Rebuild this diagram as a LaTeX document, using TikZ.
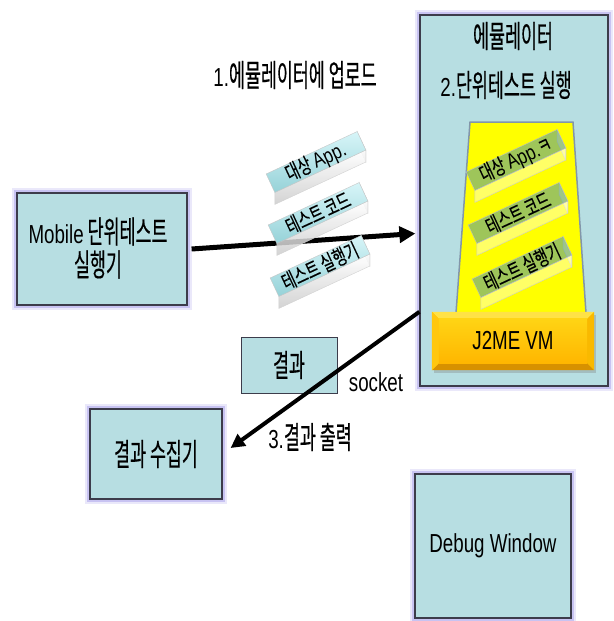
\documentclass[tikz,border=0pt]{standalone}
\usepackage{fontspec}
\setmainfont{Noto Sans CJK KR}[FakeStretch=0.56,FakeBold=0.4]
\newfontfamily\latin{Liberation Sans}[FakeStretch=0.72,Scale=0.84]
\newfontfamily\slabfont{Noto Sans CJK KR}[FakeStretch=0.68,FakeBold=0.3]
\newfontfamily\slablatin{Liberation Sans}[FakeStretch=0.8,Scale=1.0]
\usetikzlibrary{arrows.meta,calc}

\definecolor{boxfill}{RGB}{183,222,226}
\definecolor{glowc}{RGB}{150,140,230}
\definecolor{edge}{RGB}{60,60,75}
\definecolor{trapfill}{RGB}{255,255,0}
\definecolor{trapedge}{RGB}{130,150,170}
\definecolor{gold}{RGB}{255,192,0}
\definecolor{goldlight}{RGB}{255,226,70}
\definecolor{golddark}{RGB}{215,145,0}
\definecolor{goldtop}{RGB}{255,212,20}
\definecolor{goldbot}{RGB}{255,182,0}
\definecolor{barhi}{RGB}{215,245,248}
\definecolor{barlo}{RGB}{150,210,216}
\definecolor{barteal}{RGB}{80,150,165}

\tikzset{
  panel/.style={draw=edge, line width=1.2pt, fill=boxfill,
    preaction={draw=glowc, line width=10pt, opacity=0.2},
    preaction={draw=glowc, line width=6pt, opacity=0.4}},
  plainbox/.style={draw=edge, line width=1pt, fill=boxfill},
  lbl/.style={font=\fontsize{31}{31}\selectfont, align=center, inner sep=0pt},
  slabtxt/.style={font=\fontsize{21}{21}\selectfont\slabfont, inner sep=0pt},
  slabshape/.style={rectangle, minimum width=100pt, minimum height=20pt, inner sep=0pt},
  bigarrow/.style={line width=5pt, -{Triangle[length=16pt,width=16pt]}},
  midarrow/.style={line width=4pt, -{Triangle[length=14pt,width=14pt]}},
  % translucent slabs in front of a white page
  topA/.style={top color=barhi, bottom color=barlo, draw=gray!45, line width=0.4pt},
  sideA/.style={top color=white, bottom color=gray!40, fill opacity=0.85, draw=gray!35, line width=0.4pt},
  % translucent slabs lying on the yellow frame
  topB/.style={fill=barteal, fill opacity=0.55, draw=gray!50, line width=0.4pt},
  sideB/.style={fill=white, fill opacity=0.4, draw=gray!40, line width=0.4pt},
}

% #1 name, #2 centre of the top face, #3 label, #4 style set (A or B)
\newcommand\slab[4]{%
  \path node[slabshape, rotate=25] (#1) at #2 {};
  \path[side#4] (#1.south east) -- (#1.north east) -- ($(#1.north east)+(0,12)$)
        -- ($(#1.south east)+(0,12)$) -- cycle;
  \path[side#4] (#1.south west) -- (#1.south east) -- ($(#1.south east)+(0,12)$)
        -- ($(#1.south west)+(0,12)$) -- cycle;
  \path[top#4] (#1.south west) -- (#1.south east) -- (#1.north east) -- (#1.north west) -- cycle;
  \node[slabtxt, rotate=25] (#1txt) at (#1.center) {#3};
}

\begin{document}
\begin{tikzpicture}[x=1pt,y=-1pt]
\useasboundingbox[fill=white] (0,0) rectangle (613,621);

% emulator frame with its titles
\node[panel, minimum width=188pt, minimum height=371pt] (emu) at (514,200.5) {};
\node[lbl] (emutitle) at (513,36) {에뮬레이터};
\node[lbl] (step2) at (506,85) {{\latin 2.}단위테스트 실행};

% yellow stack area and the VM base
\path[fill=trapfill, draw=trapedge, line width=1.5pt]
  (470,122) coordinate (ta) -- (573,122) coordinate (tb)
  -- (586,313) coordinate (tc) -- (456,313) coordinate (td) -- cycle;
\node[rectangle, minimum width=162pt, minimum height=58pt, inner sep=0pt,
      fill=gray, fill opacity=0.35] (vmshadow) at (515,344) {};
\node[rectangle, minimum width=162pt, minimum height=58pt, inner sep=0pt, fill=gold] (vm) at (513,341) {};
\fill[goldlight] (vm.north west) -- (vm.north east) -- ($(vm.north east)+(-7,7)$) -- ($(vm.north west)+(7,7)$) -- cycle;
\fill[golddark] (vm.south west) -- (vm.south east) -- ($(vm.south east)+(-7,-7)$) -- ($(vm.south west)+(7,-7)$) -- cycle;
\fill[gold!80!goldlight] (vm.north west) -- ($(vm.north west)+(7,7)$) -- ($(vm.south west)+(7,-7)$) -- (vm.south west) -- cycle;
\fill[gold!85!golddark] (vm.north east) -- ($(vm.north east)+(-7,7)$) -- ($(vm.south east)+(-7,-7)$) -- (vm.south east) -- cycle;
\shade[top color=goldtop, bottom color=goldbot] ($(vm.north west)+(7,7)$) rectangle ($(vm.south east)+(-7,-7)$);
\node[lbl] (vmtxt) at (vm.center) {\latin J2ME VM};

% the three parts loaded into the emulator
\slab{ea}{(516,160)}{대상 {\slablatin App.}ㅋ}{B}
\slab{eb}{(518,213)}{테스트 코드}{B}
\slab{ec}{(522,267)}{테스트 실행기}{B}

% runner, result and collector boxes
\node[panel, minimum width=170pt, minimum height=112pt] (mobile) at (102,249) {};
\node[lbl] (mobiletxt) at (98,248) {{\latin Mobile} 단위테스트\\[2pt]실행기};
\node[plainbox, minimum width=96pt, minimum height=56pt] (res) at (289,365) {};
\node[lbl] (restxt) at (res.center) {결과};
\node[panel, minimum width=132pt, minimum height=90pt] (coll) at (156,454) {};
\node[lbl] (colltxt) at (coll.center) {결과 수집기};
\node[panel, minimum width=156pt, minimum height=144pt] (dbg) at (493,546) {};
\node[lbl] (dbgtxt) at (dbg.center) {\latin Debug Window};

% upload step
\node[lbl] (step1) at (295,75) {{\latin 1.}에뮬레이터에 업로드};
\draw[bigarrow] ($(mobile.east)+(4,0)$) -- ($(emu.west)+(-4,33)$);

\slab{ua}{(316,162)}{대상 {\slablatin App.}}{A}
\slab{ub}{(318,213)}{테스트 코드}{A}
\slab{uc}{(320,266)}{테스트 실행기}{A}

% result output over the socket
\draw[midarrow] (emu.west |- vm.north) -- ($(coll.east)+(8,-6)$);
\node[lbl] (sock) at (376,382) {\latin socket};
\node[lbl] (step3) at (310,437) {{\latin 3.}결과 출력};
\end{tikzpicture}
\end{document}
